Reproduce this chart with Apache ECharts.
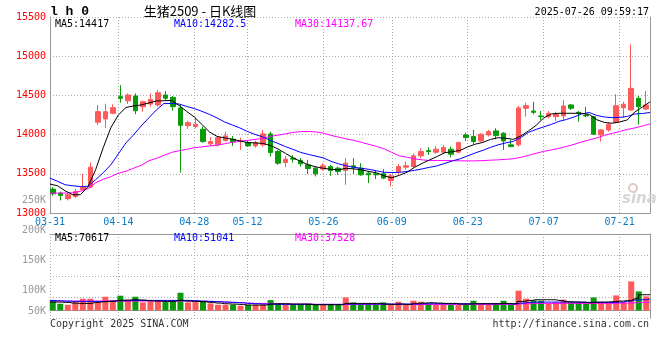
<!DOCTYPE html>
<html><head><meta charset="utf-8">
<script src="https://cdn.jsdelivr.net/npm/echarts@6/dist/echarts.min.js"></script>
<style>html,body{margin:0;padding:0;background:#fff}#c{width:660px;height:360px}</style>
</head><body><div id="c"></div>
<script>
const dates = ['03-31','04-01','04-02','04-03','04-07','04-08','04-09','04-10','04-11','04-14','04-15','04-16','04-17','04-18','04-21','04-22','04-23','04-24','04-25','04-28','04-29','04-30','05-06','05-07','05-08','05-09','05-12','05-13','05-14','05-15','05-16','05-19','05-20','05-21','05-22','05-23','05-26','05-27','05-28','05-29','05-30','06-03','06-04','06-05','06-06','06-09','06-10','06-11','06-12','06-13','06-16','06-17','06-18','06-19','06-20','06-23','06-24','06-25','06-26','06-27','06-30','07-01','07-02','07-03','07-04','07-07','07-08','07-09','07-10','07-11','07-14','07-15','07-16','07-17','07-18','07-21','07-22','07-23','07-24','07-25'];
const labelDates = ['03-31','04-14','04-28','05-12','05-26','06-09','06-23','07-07','07-21'];
const opens  = [13305,13254,13182,13211,13296,13331,14158,14200,14272,14483,14432,14492,14356,14390,14378,14505,14475,14340,14114,14102,14068,13882,13869,13923,13941,13911,13898,13856,13869,14009,13784,13644,13700,13669,13614,13572,13560,13593,13572,13542,13602,13572,13508,13500,13500,13415,13529,13585,13593,13729,13796,13775,13776,13814,13776,13996,13975,13919,13996,14047,14018,13869,13870,14336,14301,14238,14229,14229,14238,14378,14284,14250,14229,13996,14060,14157,14343,14314,14463,14327];
const closes = [13245,13224,13233,13275,13331,13585,14292,14292,14343,14463,14505,14305,14420,14450,14534,14463,14356,14118,14152,14132,13911,13911,13962,13983,13911,13923,13856,13898,14009,13771,13636,13687,13687,13627,13567,13500,13602,13542,13529,13636,13585,13487,13487,13487,13445,13474,13593,13602,13729,13784,13784,13814,13835,13750,13898,13962,13911,14005,14038,13987,13919,13847,14340,14369,14284,14229,14272,14263,14365,14336,14272,14238,14005,14060,14132,14369,14387,14590,14356,14378];
const lows   = [13220,13160,13160,13191,13283,13318,14123,14085,14259,14407,14390,14259,14292,14356,14356,14441,14305,13516,14072,14081,13898,13856,13847,13911,13856,13805,13847,13834,13847,13720,13614,13585,13644,13593,13500,13466,13542,13474,13487,13360,13500,13474,13381,13432,13432,13339,13487,13551,13572,13700,13741,13754,13754,13707,13763,13919,13882,13911,13975,13941,13805,13839,13847,14229,14259,14187,14208,14174,14187,14314,14165,14221,13996,13911,14038,14145,14216,14301,14128,14314];
const highs  = [13331,13275,13254,13305,13500,13644,14378,14394,14387,14631,14526,14526,14432,14526,14568,14555,14492,14377,14174,14216,14102,13967,13975,14038,13983,13962,13923,13923,14060,14038,13805,13729,13738,13700,13678,13593,13636,13614,13593,13700,13700,13636,13529,13542,13560,13500,13627,13656,13760,13826,13839,13856,13869,13847,13911,14025,14060,14018,14060,14081,14030,13932,14367,14407,14420,14301,14301,14292,14441,14390,14301,14356,14238,14072,14158,14514,14420,15150,14492,14555];
const ma5  = [13369,13347,13283,13233,13233,13335,13551,13831,14085,14250,14346,14365,14378,14403,14429,14432,14435,14371,14295,14225,14130,14034,13977,13958,13941,13920,13898,13894,13888,13862,13818,13761,13703,13659,13614,13589,13570,13557,13551,13570,13563,13551,13529,13513,13474,13449,13481,13519,13583,13633,13678,13722,13770,13782,13799,13843,13878,13901,13939,13960,13954,13939,13983,14047,14117,14212,14263,14272,14272,14272,14272,14257,14189,14155,14145,14161,14187,14289,14352,14417];
const ma10 = [13445,13404,13360,13347,13338,13341,13424,13513,13614,13754,13894,13996,14110,14212,14314,14397,14397,14390,14359,14333,14297,14257,14212,14161,14123,14085,14040,14002,13971,13926,13888,13847,13812,13773,13748,13725,13703,13659,13627,13602,13583,13570,13557,13538,13519,13516,13519,13529,13544,13563,13583,13602,13633,13665,13691,13729,13767,13799,13837,13869,13894,13913,13964,14028,14066,14098,14130,14168,14193,14225,14263,14282,14244,14225,14216,14219,14231,14263,14269,14282];
const ma30 = [13254,13254,13254,13258,13277,13309,13385,13430,13462,13509,13532,13570,13608,13665,13697,13735,13773,13795,13812,13833,13843,13856,13865,13884,13901,13913,13926,13939,13951,13977,13993,14009,14028,14038,14041,14034,14018,13990,13967,13945,13926,13901,13875,13850,13818,13773,13729,13712,13691,13678,13669,13669,13669,13668,13665,13665,13665,13668,13674,13678,13684,13693,13710,13735,13761,13786,13805,13824,13850,13875,13907,13932,13958,13990,14015,14040,14066,14085,14110,14136];
const volumes = [45000,30000,25500,37500,52500,52500,37500,61500,46500,66000,46500,61500,36000,40500,46500,37500,46500,79500,36000,37500,40500,31500,25500,25500,25500,21000,25500,25500,25500,46500,31500,25500,25500,25500,31500,25500,25500,25500,25500,58500,36000,25500,25500,25500,36000,25500,39000,25500,43500,39000,28500,25500,25500,25500,25500,25500,43500,25500,25500,30000,43500,28500,88500,52500,45000,43500,31500,36000,48000,36000,36000,31500,58500,36000,31500,67500,36000,130500,85500,63000];
const volMa5  = [37500,37500,36000,33000,31500,31500,36000,39000,40500,45000,46500,48000,46500,43500,42000,40500,40500,45000,42000,40500,39000,36000,33000,30000,28500,27000,24000,24000,24000,28500,30000,30000,28500,28500,27000,25500,25500,25500,25500,31500,31500,31500,31500,31500,28500,27000,28500,27000,31500,33000,34500,33000,31500,31500,28500,28500,30000,30000,30000,30000,31500,30000,40500,45000,48000,48000,48000,45000,39000,37500,37500,34500,37500,37500,39000,42000,43500,52500,70500,70617];
const volMa10 = [45000,43500,42000,40500,40500,40500,40500,40500,42000,43500,43500,45000,45000,45000,45000,45000,45000,45000,45000,43500,42000,40500,39000,37500,36000,34500,31500,30000,28500,28500,27000,27000,27000,27000,27000,27000,27000,27000,27000,28500,28500,28500,28500,28500,28500,28500,28500,28500,28500,30000,30000,30000,30000,30000,30000,30000,30000,30000,30000,30000,30000,30000,33000,36000,37500,37500,37500,37500,37500,37500,36000,36000,36000,36000,36000,37500,42000,46500,48000,51041];
const volMa30 = [42000,42000,42000,42000,42000,42000,42000,42000,42000,42000,42000,42000,42000,42000,42000,42000,42000,42000,42000,42000,40500,40500,39000,37500,36000,34500,33000,31500,31500,30000,30000,28500,28500,28500,28500,27000,27000,27000,27000,27000,27000,27000,27000,27000,27000,27000,27000,27000,27000,27000,27000,27000,27000,27000,27000,27000,27000,27000,27000,27000,27000,27000,30000,30000,31500,31500,31500,31500,31500,31500,31500,31500,31500,31500,31500,33000,33000,34500,36000,37528];
const priceTicks = [13000, 15500, 500];
const volTickLabels = ['250K','200K','150K','100K','50K'];
const maText = ['MA5:14417','MA10:14282.5','MA30:14137.67'];
const volMaText = ['MA5:70617','MA10:51041','MA30:37528'];

const UP = '#ff5a5a', DOWN = '#0a9a0a';
const MONO = '"DejaVu Sans Mono", "Liberation Mono", monospace';
const GRIDC = '#aaaaaa', BORDER = '#999999';
const isLabel = (i, v) => labelDates.indexOf(v) >= 0;
const VMIN = -34200, VMAX = 343800;

const chart = echarts.init(document.getElementById('c'), null, {renderer: 'canvas'});
const candle = dates.map((d, i) => [opens[i], closes[i], lows[i], highs[i]]);
const volData = volumes.map((v, i) => ({value: v, itemStyle: {color: closes[i] >= opens[i] ? UP : DOWN}}));
const hiddenCat = (g) => ({type: 'category', gridIndex: g, data: dates, boundaryGap: true, show: false});
const dotted = {show: true, interval: isLabel, lineStyle: {color: GRIDC, type: [1, 2], width: 1}};

function txt(text, x, y, fill, align, font) {
  return {type: 'text', silent: true, z: 100, style: {text, x, y, fill, textAlign: align || 'left', textVerticalAlign: 'middle', font: font || ('10px ' + MONO)}};
}
const graphics = [
  txt('l h 0', 50, 12, '#000', 'left', 'bold 13px "Liberation Mono", monospace'),
  txt('生猪2509 - 日K线图', 200, 11, '#000', 'center', '13px "Noto Sans CJK SC", sans-serif'),
  txt('2025-07-26 09:59:17', 649, 12, '#000', 'right'),
  txt(maText[0], 55, 24, '#000'), txt(maText[1], 174, 24, '#0000ff'), txt(maText[2], 295, 24, '#ff00ff'),
  txt(volMaText[0], 55, 238, '#000'), txt(volMaText[1], 174, 238, '#0000ff'), txt(volMaText[2], 295, 238, '#ff00ff'),
  txt('Copyright 2025 SINA.COM', 50, 324, '#333'),
  txt('http://finance.sina.com.cn', 649, 324, '#333', 'right'),
  txt('sina', 622, 199, '#d6d6d6', 'left', 'italic bold 15px "DejaVu Sans", sans-serif'),
  {type: 'circle', silent: true, shape: {cx: 633, cy: 188, r: 4}, style: {fill: 'none', stroke: '#e2c8c8', lineWidth: 2}}
];
const volY = [200.7, 230.7, 260.7, 290.7, 311];
volTickLabels.forEach((t, k) => graphics.push(txt(t, 46, volY[k], '#999999', 'right')));

chart.setOption({
  animation: false,
  backgroundColor: '#fff',
  graphic: graphics,
  grid: [
    {left: 49, width: 601, top: 17, height: 196},
    {left: 50, width: 600, top: 17, height: 196},
    {left: 49, width: 601, top: 234, height: 84},
    {left: 50, width: 600, top: 234, height: 84}
  ],
  xAxis: [
    hiddenCat(0),
    {type: 'category', gridIndex: 1, data: dates, boundaryGap: false,
     axisLine: {show: true, lineStyle: {color: BORDER}}, axisTick: {show: false},
     axisLabel: {show: true, interval: isLabel, color: '#0a7cc8', fontFamily: MONO, fontSize: 10, margin: 4},
     splitLine: dotted},
    hiddenCat(2),
    {type: 'category', gridIndex: 3, data: dates, boundaryGap: false,
     axisLine: {show: true, lineStyle: {color: BORDER}}, axisTick: {show: false}, axisLabel: {show: false},
     splitLine: dotted},
    {type: 'category', gridIndex: 3, data: dates, position: 'top', boundaryGap: false,
     axisLine: {show: true, lineStyle: {color: BORDER}}, axisTick: {show: false}, axisLabel: {show: false}, splitLine: {show: false}}
  ],
  yAxis: [
    {type: 'value', gridIndex: 0, min: priceTicks[0], max: priceTicks[1], show: false},
    {type: 'value', gridIndex: 1, min: priceTicks[0], max: priceTicks[1], interval: priceTicks[2],
     axisLine: {show: true, lineStyle: {color: BORDER}}, axisTick: {show: false},
     axisLabel: {color: '#ff0000', fontFamily: MONO, fontSize: 10, margin: 4, formatter: (v) => String(v)},
     splitLine: {show: true, lineStyle: {color: GRIDC, type: [1, 2]}}},
    {type: 'value', gridIndex: 1, position: 'right', min: priceTicks[0], max: priceTicks[1],
     axisLine: {show: true, lineStyle: {color: BORDER}}, axisTick: {show: false}, axisLabel: {show: false}, splitLine: {show: false}},
    {type: 'value', gridIndex: 2, min: VMIN, max: VMAX, show: false},
    {type: 'value', gridIndex: 3, min: VMIN, max: VMAX, show: false},
    {type: 'value', gridIndex: 3, min: 0, max: 84, interval: 21, inverse: true,
     axisLine: {show: true, lineStyle: {color: BORDER}}, axisTick: {show: false}, axisLabel: {show: false},
     splitLine: {show: true, lineStyle: {color: GRIDC, type: [1, 2]}}},
    {type: 'value', gridIndex: 3, position: 'right', min: 0, max: 84,
     axisLine: {show: true, lineStyle: {color: BORDER}}, axisTick: {show: false}, axisLabel: {show: false}, splitLine: {show: false}}
  ],
  series: [
    {type: 'candlestick', xAxisIndex: 0, yAxisIndex: 0, data: candle, barWidth: 5,
     itemStyle: {color: UP, color0: DOWN, borderColor: UP, borderColor0: DOWN, borderWidth: 1}},
    {type: 'line', xAxisIndex: 1, yAxisIndex: 1, data: ma30, symbol: 'none', lineStyle: {color: '#ff00ff', width: 1}},
    {type: 'line', xAxisIndex: 1, yAxisIndex: 1, data: ma10, symbol: 'none', lineStyle: {color: '#0000ff', width: 1}},
    {type: 'line', xAxisIndex: 1, yAxisIndex: 1, data: ma5, symbol: 'none', lineStyle: {color: '#000000', width: 1}},
    {type: 'bar', xAxisIndex: 2, yAxisIndex: 3, data: volData, barWidth: 6},
    {type: 'line', xAxisIndex: 3, yAxisIndex: 4, data: volMa30, step: 'middle', symbol: 'none', lineStyle: {color: '#ff00ff', width: 1}},
    {type: 'line', xAxisIndex: 3, yAxisIndex: 4, data: volMa10, step: 'middle', symbol: 'none', lineStyle: {color: '#0000ff', width: 1}},
    {type: 'line', xAxisIndex: 3, yAxisIndex: 4, data: volMa5, step: 'middle', symbol: 'none', lineStyle: {color: '#000000', width: 1}}
  ]
});
</script></body></html>
